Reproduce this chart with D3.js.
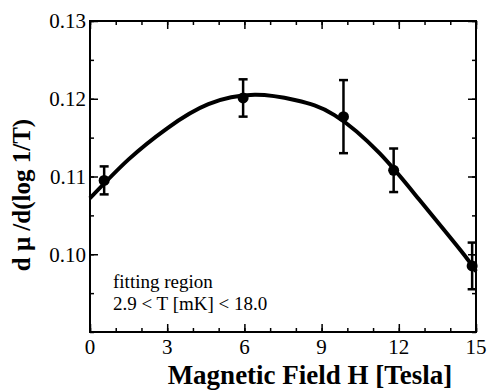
<!DOCTYPE html>
<html>
<head>
<meta charset="utf-8">
<script src="https://cdn.jsdelivr.net/npm/d3@7"></script>
<style>
  body { margin: 0; background: #fff; }
  svg { display: block; }
</style>
</head>
<body>
<svg width="492" height="390"></svg>
<script>
// measured points
const fieldH = [0.55, 5.95, 9.85, 11.8, 14.85];
const slope = [0.1095, 0.1201, 0.1177, 0.1108, 0.0985];
const errBar = [0.0018, 0.0024, 0.0047, 0.0028, 0.0030];

// fitted curve
const fitH = [0, 1.5, 3.0, 4.6, 6.4, 8.0, 9.5, 11.25, 12.8, 14.4, 15];
const fitY = [0.1072, 0.1122, 0.1162, 0.1193, 0.1205, 0.1198, 0.1179, 0.1130, 0.1070, 0.1005, 0.0978];

const xTicks = [0, 3, 6, 9, 12, 15];
const yTicks = [0.10, 0.11, 0.12, 0.13];

const svg = d3.select("svg")
  .attr("font-family", "'Liberation Serif', Tinos, 'Times New Roman', 'DejaVu Serif', serif");
const margin = { top: 21, right: 16, bottom: 58, left: 90 };
const width = +svg.attr("width") - margin.left - margin.right;
const height = +svg.attr("height") - margin.top - margin.bottom;

const x = d3.scaleLinear().domain([0, 15]).range([0, width]);
const y = d3.scaleLinear().domain([0.09, 0.13]).range([height, 0]);

const g = svg.append("g").attr("transform", `translate(${margin.left},${margin.top})`);

// ticks on all four sides, pointing in
function addTicks(axisFn, scale, vals, len, transform) {
  g.append("g")
    .attr("transform", transform)
    .call(axisFn(scale).tickValues(vals).tickSize(len).tickFormat(""))
    .call(a => a.select(".domain").remove())
    .selectAll("line").attr("stroke", "#000").attr("stroke-width", 1.5);
}
const xMinor = d3.range(0, 15.01, 1);
const yMinor = d3.range(0.09, 0.1301, 0.005);
addTicks(d3.axisTop, x, xMinor, 4, `translate(0,${height})`);
addTicks(d3.axisTop, x, xTicks, 8, `translate(0,${height})`);
addTicks(d3.axisBottom, x, xMinor, 4, "translate(0,0)");
addTicks(d3.axisBottom, x, xTicks, 8, "translate(0,0)");
addTicks(d3.axisRight, y, yMinor, 4, "translate(0,0)");
addTicks(d3.axisRight, y, yTicks, 8, "translate(0,0)");
addTicks(d3.axisLeft, y, yMinor, 4, `translate(${width},0)`);
addTicks(d3.axisLeft, y, yTicks, 8, `translate(${width},0)`);

g.append("rect")
  .attr("width", width).attr("height", height)
  .attr("fill", "none").attr("stroke", "#000").attr("stroke-width", 2);

// tick labels
g.selectAll(".xl").data(xTicks).enter().append("text")
  .attr("x", d => x(d)).attr("y", height + 22)
  .attr("text-anchor", "middle").attr("font-size", 21)
  .text(d => d);
g.selectAll(".yl").data(yTicks).enter().append("text")
  .attr("x", -4).attr("y", d => y(d)).attr("dy", "0.35em")
  .attr("text-anchor", "end").attr("font-size", 21)
  .text(d => d3.format(".2f")(d));

// fit curve
const line = d3.line().x((d, i) => x(fitH[i])).y(d => y(d)).curve(d3.curveNatural);
g.append("path").datum(fitY).attr("d", line)
  .attr("fill", "none").attr("stroke", "#000").attr("stroke-width", 4);

// error bars + points
const pts = g.selectAll(".pt").data(fieldH).enter().append("g");
pts.append("line")
  .attr("x1", d => x(d)).attr("x2", d => x(d))
  .attr("y1", (d, i) => y(slope[i] - errBar[i])).attr("y2", (d, i) => y(slope[i] + errBar[i]))
  .attr("stroke", "#000").attr("stroke-width", 2.5);
[-1, 1].forEach(s => {
  pts.append("line")
    .attr("x1", d => x(d) - 4.5).attr("x2", d => x(d) + 4.5)
    .attr("y1", (d, i) => y(slope[i] + s * errBar[i])).attr("y2", (d, i) => y(slope[i] + s * errBar[i]))
    .attr("stroke", "#000").attr("stroke-width", 2.5);
});
pts.append("circle")
  .attr("cx", d => x(d)).attr("cy", (d, i) => y(slope[i]))
  .attr("r", 5.5).attr("fill", "#000");

// annotation
const note = g.append("text").attr("font-size", 19);
note.append("tspan").attr("x", 23).attr("y", 267).text("fitting region");
note.append("tspan").attr("x", 23).attr("y", 289).text("2.9 < T [mK] < 18.0");

// axis titles
svg.append("text")
  .attr("x", margin.left + width / 2 + 27).attr("y", 384)
  .attr("text-anchor", "middle").attr("font-size", 27).attr("font-weight", "bold")
  .text("Magnetic Field H [Tesla]");
svg.append("text")
  .attr("transform", "translate(30,195) rotate(-90)")
  .attr("text-anchor", "middle").attr("font-size", 25).attr("font-weight", "bold")
  .text("d \u03bc /d(log 1/T)");
</script>
</body>
</html>
